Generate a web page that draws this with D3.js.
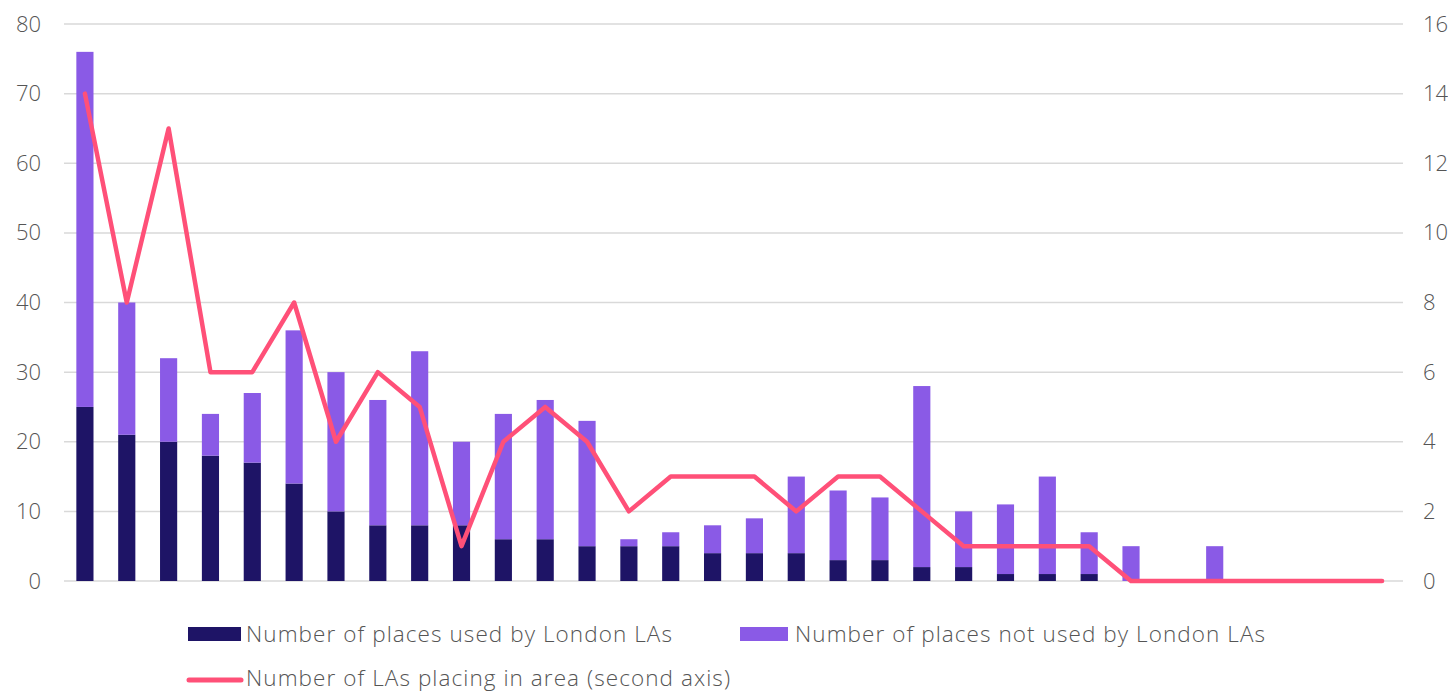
<!DOCTYPE html>
<html><head><meta charset="utf-8">
<script src="https://cdn.jsdelivr.net/npm/d3@7"></script>
<style>body{margin:0;background:#fff}svg{display:block;font-family:"Open Sans",Lato,sans-serif}</style>
</head><body>
<svg id="c" width="1448" height="692"></svg>
<script>
const categories = d3.range(1, 33).map(i => "Area " + i);
const usedPlaces = [25,21,20,18,17,14,10,8,8,8,6,6,5,5,5,4,4,4,3,3,2,2,1,1,1,0,0,0,0,0,0,0];
const totalPlaces = [76,40,32,24,27,36,30,26,33,20,24,26,23,6,7,8,9,15,13,12,28,10,11,15,7,5,0,5,0,0,0,0];
const notUsedPlaces = totalPlaces.map((t,i) => t - usedPlaces[i]);
const lasPlacing = [14,8,13,6,6,8,4,6,5,1,4,5,4,2,3,3,3,2,3,3,2,1,1,1,1,0,0,0,0,0,0,0];
const leftTicks = [0,10,20,30,40,50,60,70,80];
const rightTicks = [0,2,4,6,8,10,12,14,16];
const seriesNames = ["Number of places used by London LAs","Number of places not used by London LAs","Number of LAs placing in area (second axis)"];
const colors = ["#1e1466","#8a5ae6","#ff5078"];

(function(){
const svg = d3.select("#c");
const mL = 64, mR = 1403, mT = 24, mB = 581;
const font = "'Open Sans', Lato, sans-serif";
const x = d3.scaleBand().domain(categories).range([mL, mR]).paddingInner(0.59).paddingOuter(0.295);
const y = d3.scaleLinear().domain([0,80]).range([mB, mT]);
const y2 = d3.scaleLinear().domain([0,16]).range([mB, mT]);

svg.append("g").selectAll("line").data(leftTicks).join("line")
  .attr("x1", mL).attr("x2", mR).attr("y1", d => y(d)).attr("y2", d => y(d))
  .attr("stroke", "#d9d9d9").attr("stroke-width", 1.5);

const ax = svg.append("g").attr("transform", `translate(${mL-23},0)`)
  .call(d3.axisLeft(y).tickValues(leftTicks).tickSize(0).tickPadding(0));
ax.select(".domain").remove();
ax.selectAll("text").attr("font-size", 22).attr("font-weight", 300).attr("fill", "#555").attr("font-family", font);

const ax2 = svg.append("g").attr("transform", `translate(${mR+20},0)`)
  .call(d3.axisRight(y2).tickValues(rightTicks).tickSize(0).tickPadding(0));
ax2.select(".domain").remove();
ax2.selectAll("text").attr("font-size", 22).attr("font-weight", 300).attr("fill", "#555").attr("font-family", font);

const rows = categories.map((c,i) => ({cat:c, used:usedPlaces[i], notUsed:notUsedPlaces[i]}));
const stack = d3.stack().keys(["used","notUsed"])(rows);
svg.append("g").selectAll("g").data(stack).join("g").attr("fill", (d,i) => colors[i])
  .selectAll("rect").data(d => d).join("rect")
  .attr("x", d => x(d.data.cat)).attr("width", x.bandwidth())
  .attr("y", d => y(d[1])).attr("height", d => y(d[0]) - y(d[1]));

const line = d3.line().x((d,i) => x(categories[i]) + x.bandwidth()/2).y(d => y2(d));
svg.append("path").datum(lasPlacing).attr("d", line)
  .attr("fill", "none").attr("stroke", colors[2]).attr("stroke-width", 4.5)
  .attr("stroke-linejoin", "round").attr("stroke-linecap", "round");

const lg = svg.append("g").attr("font-size", 22.5).attr("font-weight", 300).attr("fill", "#555")
  .attr("font-family", font).attr("letter-spacing", 1.07);
lg.append("rect").attr("x", 188).attr("y", 627).attr("width", 53).attr("height", 14).attr("fill", colors[0]);
lg.append("text").attr("x", 246).attr("y", 642).text(seriesNames[0]);
lg.append("rect").attr("x", 740).attr("y", 627).attr("width", 48).attr("height", 14).attr("fill", colors[1]);
lg.append("text").attr("x", 795).attr("y", 642).text(seriesNames[1]);
lg.append("line").attr("x1", 189).attr("x2", 241).attr("y1", 680).attr("y2", 680)
  .attr("stroke", colors[2]).attr("stroke-width", 5).attr("stroke-linecap", "round");
lg.append("text").attr("x", 246).attr("y", 686).text(seriesNames[2]);
})();
</script>
</body></html>
